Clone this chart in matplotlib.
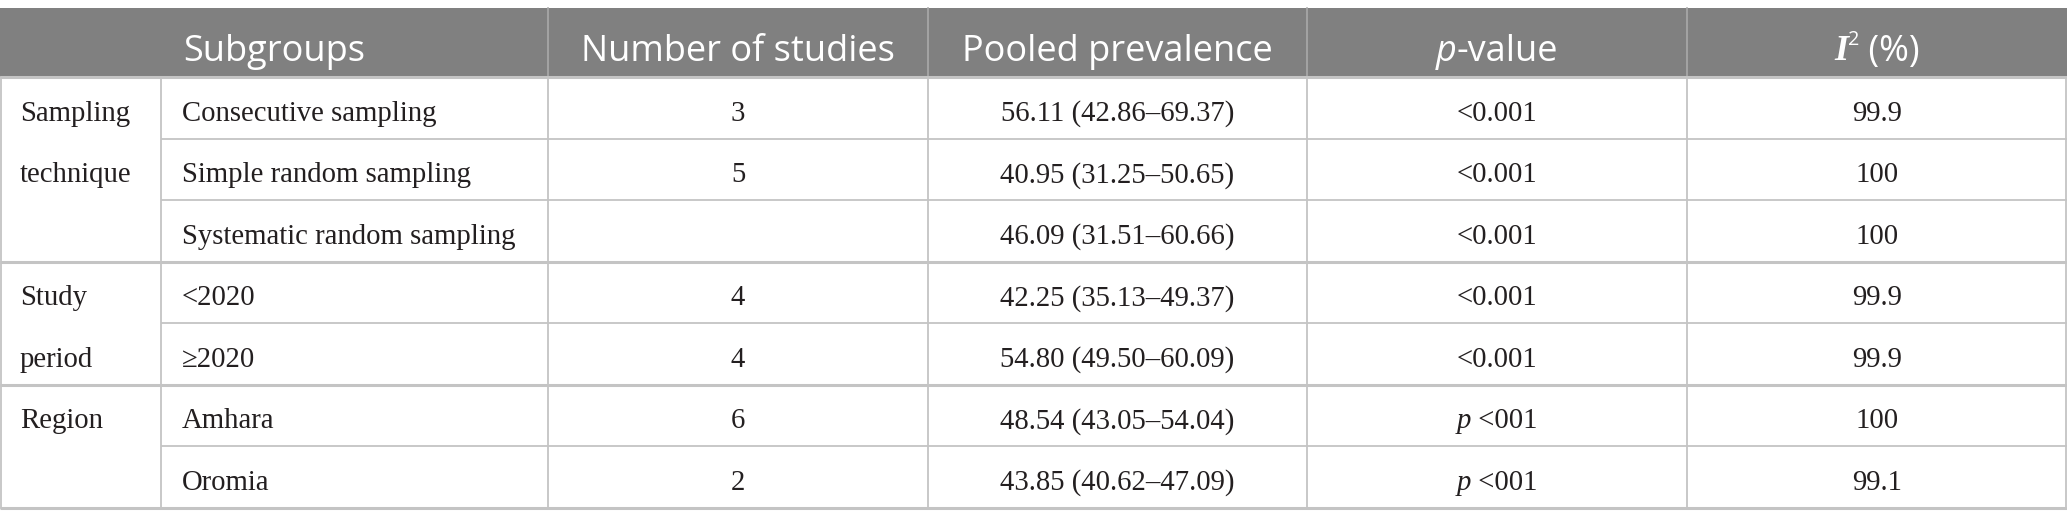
import matplotlib
matplotlib.use("Agg")
import matplotlib.pyplot as plt

# table content
header = ["Subgroups", "Number of studies", "Pooled prevalence", "p-value", "I2 (%)"]
groups = ["Sampling\ntechnique", "Study\nperiod", "Region"]
group_sizes = [3, 2, 2]
subgroups = ["Consecutive sampling", "Simple random sampling", "Systematic random sampling",
             "<2020", "\u22652020", "Amhara", "Oromia"]
n_studies = ["3", "5", "", "4", "4", "6", "2"]
pooled = ["56.11 (42.86\u201369.37)", "40.95 (31.25\u201350.65)", "46.09 (31.51\u201360.66)",
          "42.25 (35.13\u201349.37)", "54.80 (49.50\u201360.09)", "48.54 (43.05\u201354.04)",
          "43.85 (40.62\u201347.09)"]
p_values = ["<0.001", "<0.001", "<0.001", "<0.001", "<0.001", "p <001", "p <001"]
i2 = ["99.9", "100", "100", "99.9", "99.9", "100", "99.1"]

W, H = 2067, 526
col_x = [0, 161, 548, 928, 1307, 1687, 2067]
head_top, head_bot = 8, 77
row_h = 61.5

HEAD_FONT = "Open Sans"
BODY_FONT = "Liberation Serif"
head_size = 26
body_size = 20.7
txt_col = "#231f20"
line_col = "#c4c4c4"

fig = plt.figure(figsize=(W / 100, H / 100), dpi=100)
ax = fig.add_axes([0, 0, 1, 1])
ax.set_xlim(0, W)
ax.set_ylim(H, 0)
ax.axis("off")
fig.canvas.draw()
renderer = fig.canvas.get_renderer()


def runs_text(x, y, runs, ha="center"):
    # runs: list of (text, props, dy) drawn side by side
    widths = []
    for s, props, dy in runs:
        t = ax.text(0, 0, s, **props)
        widths.append(t.get_window_extent(renderer).width)
        t.remove()
    total = sum(widths)
    cx = x - total / 2 if ha == "center" else x
    for (s, props, dy), w in zip(runs, widths):
        ax.text(cx, y + dy, s, ha="left", va="center_baseline", **props)
        cx += w


# header band
ax.fill_between([0, W], head_top, head_bot, color="#808080", lw=0)
hp = dict(family=HEAD_FONT, fontsize=head_size, color="white")
hy = (head_top + head_bot) / 2 + 5
ax.text(col_x[2] / 2, hy, header[0], ha="center", va="center_baseline", **hp)
ax.text((col_x[2] + col_x[3]) / 2, hy, header[1], ha="center", va="center_baseline", **hp)
ax.text((col_x[3] + col_x[4]) / 2, hy, header[2], ha="center", va="center_baseline", **hp)
runs_text((col_x[4] + col_x[5]) / 2, hy,
          [("p", dict(hp, style="italic"), 0), ("-value", hp, 0)])
runs_text((col_x[5] + col_x[6]) / 2, hy,
          [("I", dict(family=BODY_FONT, fontsize=head_size, color="white",
                      style="italic", weight="bold"), 0),
           ("2", dict(family=HEAD_FONT, fontsize=head_size * 0.55, color="white"), -10),
           (" (%)", hp, 0)])
for x in col_x[2:-1]:
    ax.plot([x, x], [head_top, head_bot], color="#a9a9a9", lw=1.2)

# body
n_rows = len(subgroups)
row_top = [head_bot + i * row_h for i in range(n_rows + 1)]
bp = dict(family=BODY_FONT, fontsize=body_size, color=txt_col)

for i in range(n_rows):
    yc = row_top[i] + row_h / 2 + 3
    ax.text(col_x[1] + 21, yc, subgroups[i], ha="left", va="center_baseline", **bp)
    ax.text((col_x[2] + col_x[3]) / 2, yc, n_studies[i], ha="center", va="center_baseline", **bp)
    ax.text((col_x[3] + col_x[4]) / 2, yc, pooled[i], ha="center", va="center_baseline", **bp)
    pv = p_values[i]
    if pv.startswith("p "):
        runs_text((col_x[4] + col_x[5]) / 2, yc,
                  [("p", dict(bp, style="italic"), 0), (pv[1:], bp, 0)])
    else:
        ax.text((col_x[4] + col_x[5]) / 2, yc, pv, ha="center", va="center_baseline", **bp)
    ax.text((col_x[5] + col_x[6]) / 2, yc, i2[i], ha="center", va="center_baseline", **bp)

# group labels, one line per row
start = 0
group_edges = [0]
for g, n in zip(groups, group_sizes):
    for k, line in enumerate(g.split("\n")):
        yc = row_top[start + k] + row_h / 2 + 3
        ax.text(col_x[0] + 20, yc, line, ha="left", va="center_baseline", **bp)
    start += n
    group_edges.append(start)

# grid lines
for i, y in enumerate(row_top):
    if i in group_edges:
        ax.plot([0, W], [y, y], color=line_col, lw=2.2, solid_capstyle="butt")
    else:
        ax.plot([col_x[1], W], [y, y], color=line_col, lw=1.3, solid_capstyle="butt")
for x in col_x:
    xx = min(max(x, 1), W - 1)
    ax.plot([xx, xx], [head_bot, row_top[-1]], color=line_col, lw=1.3)

fig.savefig("out.png", dpi=100)
